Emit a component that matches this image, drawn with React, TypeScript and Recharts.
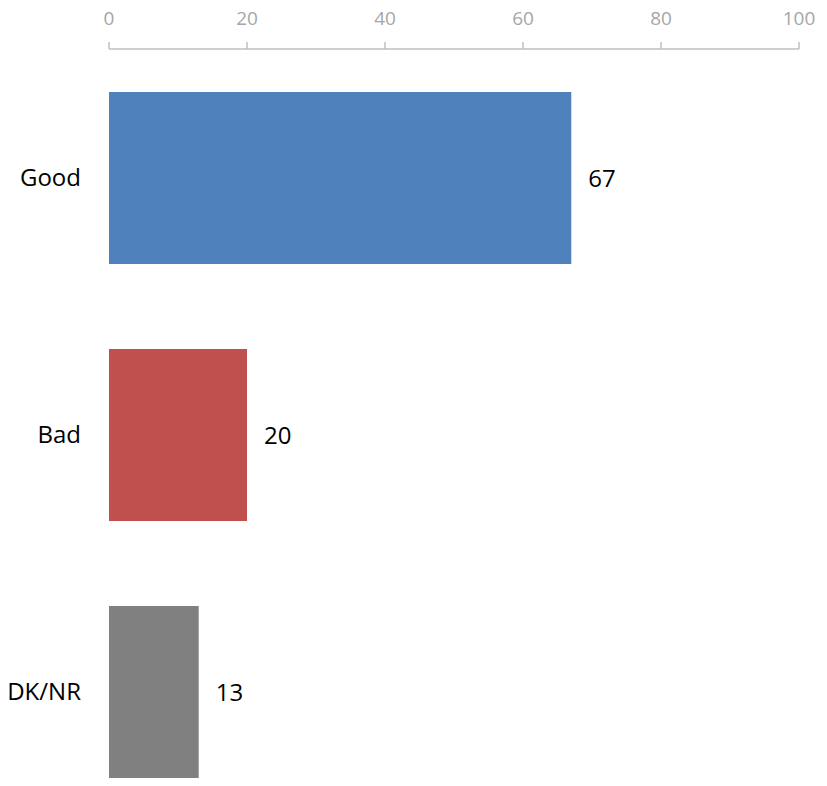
import { BarChart, Bar, XAxis, YAxis, Cell, LabelList } from 'recharts'

const categories = ['Good', 'Bad', 'DK/NR']
const values = [67, 20, 13]
const colors = ['#4f81bd', '#c0504d', '#808080']
const xTicks = [0, 20, 40, 60, 80, 100]

const data = categories.map((name, i) => ({ name, value: values[i] }))

const font = '"Open Sans", "Noto Sans", sans-serif'

export default function App() {
  return (
    <div style={{ position: 'absolute', left: 0, top: 0, width: 827, height: 786, overflow: 'hidden', background: '#fff' }}>
      <BarChart
        width={827}
        height={820}
        data={data}
        layout="vertical"
        margin={{ top: 0, right: 28, bottom: 0, left: 0 }}
        barCategoryGap={0}
      >
        <XAxis
          type="number"
          orientation="top"
          domain={[0, 100]}
          ticks={xTicks}
          height={49}
          tickSize={7}
          tickMargin={17}
          axisLine={{ stroke: '#bfbfbf', strokeWidth: 1.5 }}
          tickLine={{ stroke: '#bfbfbf', strokeWidth: 1.5 }}
          tick={{ fill: '#a6a6a6', fontSize: 19, fontFamily: font }}
        />
        <YAxis
          type="category"
          dataKey="name"
          width={109}
          axisLine={false}
          tickLine={false}
          tickSize={0}
          tickMargin={28}
          tick={{ fill: '#000', fontSize: 24, fontFamily: font }}
        />
        <Bar dataKey="value" barSize={172} isAnimationActive={false}>
          {data.map((d, i) => (
            <Cell key={d.name} fill={colors[i]} />
          ))}
          <LabelList
            dataKey="value"
            position="right"
            offset={17}
            style={{ fill: '#000', fontSize: 24, fontFamily: font }}
          />
        </Bar>
      </BarChart>
    </div>
  )
}
